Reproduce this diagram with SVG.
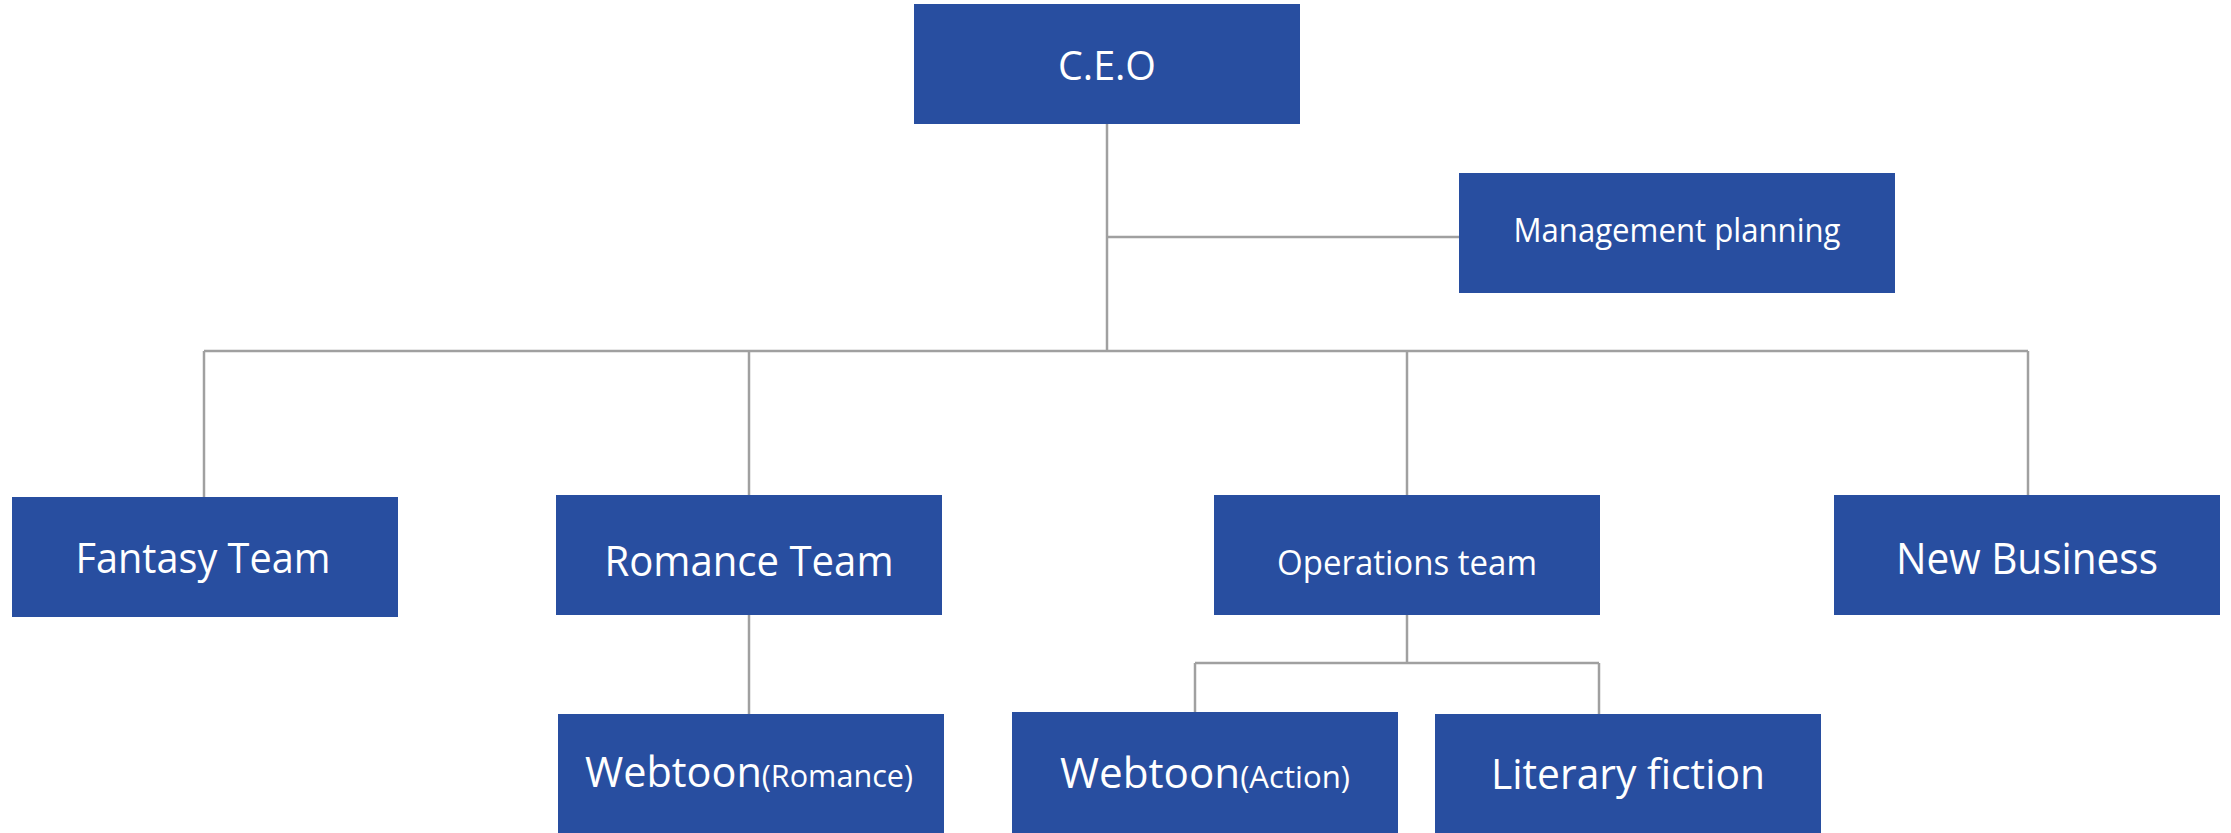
<svg xmlns="http://www.w3.org/2000/svg" width="2231" height="833" viewBox="0 0 2231 833">
<style>
.box{fill:#284EA0}
.t{fill:#ffffff;font-family:"Open Sans","Noto Sans","Liberation Sans",sans-serif}
.m{text-anchor:middle}
.ln{stroke:#a0a0a0;stroke-width:2.5;fill:none}
</style>
<rect width="2231" height="833" fill="#ffffff"/>
<g id="connectors">
<path class="ln" d="M1107 124V350"/>
<path class="ln" d="M1107 237H1459"/>
<path class="ln" d="M204 351H2028"/>
<path class="ln" d="M204 351V497"/>
<path class="ln" d="M749 351V495"/>
<path class="ln" d="M1407 351V495"/>
<path class="ln" d="M2028 351V495"/>
<path class="ln" d="M749 615V714"/>
<path class="ln" d="M1407 615V663"/>
<path class="ln" d="M1195 663H1599"/>
<path class="ln" d="M1195 663V712"/>
<path class="ln" d="M1599 663V714"/>
</g>
<g id="ceo">
<rect class="box" x="914" y="4" width="386" height="120"/>
<text class="t m" x="1107" y="80" font-size="40" textLength="98" lengthAdjust="spacingAndGlyphs">C.E.O</text>
</g>
<g id="management">
<rect class="box" x="1459" y="173" width="436" height="120"/>
<text class="t m" x="1677" y="242" font-size="32" textLength="327" lengthAdjust="spacingAndGlyphs">Management planning</text>
</g>
<g id="fantasy">
<rect class="box" x="12" y="497" width="386" height="120"/>
<text class="t m" x="203" y="573" font-size="42" textLength="255" lengthAdjust="spacingAndGlyphs">Fantasy Team</text>
</g>
<g id="romance">
<rect class="box" x="556" y="495" width="386" height="120"/>
<text class="t m" x="749" y="576" font-size="42" textLength="289" lengthAdjust="spacingAndGlyphs">Romance  Team</text>
</g>
<g id="operations">
<rect class="box" x="1214" y="495" width="386" height="120"/>
<text class="t m" x="1407" y="575" font-size="34" textLength="260" lengthAdjust="spacingAndGlyphs">Operations team</text>
</g>
<g id="newbusiness">
<rect class="box" x="1834" y="495" width="386" height="120"/>
<text class="t m" x="2027" y="574" font-size="43" textLength="262" lengthAdjust="spacingAndGlyphs">New Business</text>
</g>
<g id="webtoon-romance">
<rect class="box" x="558" y="714" width="386" height="125"/>
<text class="t" x="585" y="787" textLength="328" lengthAdjust="spacingAndGlyphs"><tspan font-size="42">Webtoon</tspan><tspan font-size="31">(Romance)</tspan></text>
</g>
<g id="webtoon-action">
<rect class="box" x="1012" y="712" width="386" height="127"/>
<text class="t" x="1060" y="788" textLength="290" lengthAdjust="spacingAndGlyphs"><tspan font-size="42">Webtoon</tspan><tspan font-size="31">(Action)</tspan></text>
</g>
<g id="literary">
<rect class="box" x="1435" y="714" width="386" height="125"/>
<text class="t m" x="1628" y="789" font-size="42" textLength="274" lengthAdjust="spacingAndGlyphs">Literary fiction</text>
</g>
</svg>
